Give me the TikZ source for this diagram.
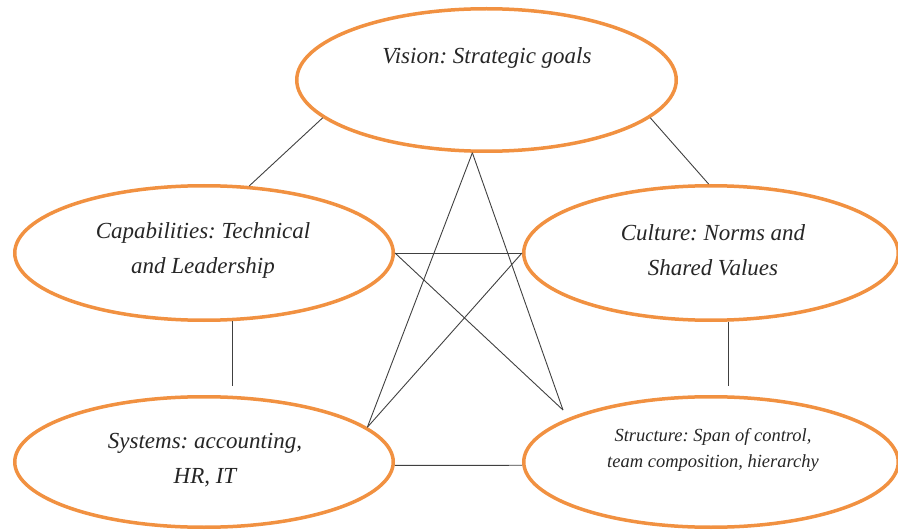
\documentclass[tikz,border=0pt]{standalone}
\usepackage{fontspec}
\setmainfont{Liberation Serif}
\usetikzlibrary{shapes.geometric}
\definecolor{ringorange}{RGB}{241,145,65}
\frenchspacing

\begin{document}
\begin{tikzpicture}[x=1pt,y=1pt,yscale=-1,xscale=1,
  ring/.style={ellipse,draw=ringorange,line width=3.5pt,inner sep=0pt},
  link/.style={draw=black!75,line width=0.9pt},
  tag/.style={font=\itshape\fontsize{23}{35}\selectfont,align=center,text=black!85,inner sep=0pt},
  smalltag/.style={tag,font=\itshape\fontsize{18.5}{26}\selectfont}]
\useasboundingbox (0,0) rectangle (898,532);

%Shape: Ellipse
\node [ring,minimum width=379.5,minimum height=142.5] (vision) at (486.5,80) {};
%Shape: Ellipse
\node [ring,minimum width=378.5,minimum height=134.5] (capab) at (204,253) {};
%Shape: Ellipse
\node [ring,minimum width=374.5,minimum height=134.5] (culture) at (711,253) {};
%Shape: Ellipse
\node [ring,minimum width=378.5,minimum height=130.5] (systems) at (204,462) {};
%Shape: Ellipse
\node [ring,minimum width=374.5,minimum height=130.5] (struct) at (711,462) {};

\coordinate (structtip) at (563,410);

%Straight Lines
\draw [link] (vision.193.7) -- (capab.56.7);
\draw [link] (vision.347) -- (culture.92.5);
\draw [link,shorten >=9pt] (capab.293.8) -- (capab.293.8 |- systems.north);
\draw [link,shorten >=9pt] (culture.284.7) -- (culture.284.7 |- struct.north);
\draw [link] (capab.east) -- (culture.west);
\draw [link] (systems.-1.5) -- (struct.181.5);
%Straight Lines
\draw [link] (vision.259.5) -- (systems.12.3);
\draw [link] (vision.259.5) -- (structtip);
\draw [link] (capab.east) -- (structtip);
\draw [link] (culture.west) -- (systems.12.3);

% Text Node
\node [tag] (visiontxt) at (487,58) {Vision: Strategic goals};
% Text Node
\node [tag] (capabtxt) at (203,250) {Capabilities: Technical\\and Leadership};
% Text Node
\node [tag] (culturetxt) at (713,250) {Culture: Norms and\\Shared Values};
% Text Node
\node [tag] (systemstxt) at (205,460) {Systems: accounting,\\HR, IT};
% Text Node
\node [smalltag] (structtxt) at (713,450) {Structure: Span of control,\\team composition, hierarchy};

\end{tikzpicture}
\end{document}
